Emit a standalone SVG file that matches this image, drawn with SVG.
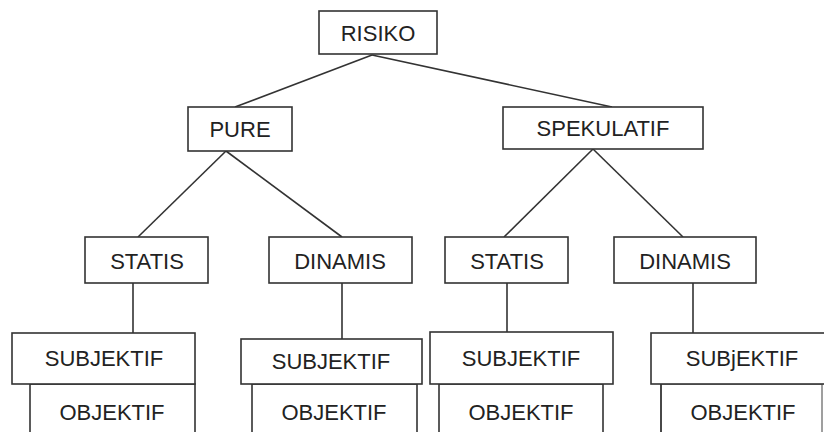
<svg xmlns="http://www.w3.org/2000/svg" width="824" height="432" viewBox="0 0 824 432">
<style>
.box{fill:#fff;stroke:#333;stroke-width:1.6}
.t{font-family:"Liberation Sans",Arial,sans-serif;font-size:22px;fill:#222;text-anchor:middle}
.c{stroke:#333;stroke-width:1.6;fill:none}
</style>
<rect width="824" height="432" fill="#fff"/>
<g id="connectors">
<line class="c" x1="372" y1="55" x2="235" y2="107"/>
<line class="c" x1="372" y1="55" x2="612" y2="107"/>
<line class="c" x1="226" y1="151" x2="138" y2="237"/>
<line class="c" x1="226" y1="151" x2="342" y2="237"/>
<line class="c" x1="593" y1="149" x2="504" y2="237"/>
<line class="c" x1="593" y1="149" x2="683" y2="237"/>
<line class="c" x1="133" y1="283" x2="133" y2="333"/>
<line class="c" x1="342" y1="283" x2="342" y2="339"/>
<line class="c" x1="507" y1="283" x2="507" y2="332"/>
<line class="c" x1="693" y1="283" x2="693" y2="333"/>
</g>
<g id="risiko"><rect class="box" x="319" y="11" width="118" height="43"/><text class="t" x="378" y="41">RISIKO</text></g>
<g id="pure"><rect class="box" x="188" y="107" width="104" height="44"/><text class="t" x="240" y="137">PURE</text></g>
<g id="spekulatif"><rect class="box" x="503" y="107" width="200" height="42"/><text class="t" x="603" y="136">SPEKULATIF</text></g>
<g id="statis1"><rect class="box" x="85" y="237" width="123" height="46"/><text class="t" x="147" y="269">STATIS</text></g>
<g id="dinamis1"><rect class="box" x="269" y="237" width="143" height="46"/><text class="t" x="340" y="269">DINAMIS</text></g>
<g id="statis2"><rect class="box" x="445" y="237" width="123" height="46"/><text class="t" x="507" y="269">STATIS</text></g>
<g id="dinamis2"><rect class="box" x="614" y="237" width="142" height="46"/><text class="t" x="685" y="269">DINAMIS</text></g>
<g id="objektif1"><rect class="box" x="30" y="384" width="165" height="60"/><text class="t" x="112" y="420">OBJEKTIF</text></g>
<g id="subjektif1"><rect class="box" x="12" y="333" width="183" height="51"/><text class="t" x="104" y="366">SUBJEKTIF</text></g>
<g id="objektif2"><rect class="box" x="252" y="384" width="165" height="60"/><text class="t" x="334" y="420">OBJEKTIF</text></g>
<g id="subjektif2"><rect class="box" x="241" y="339" width="181" height="45"/><text class="t" x="331" y="369">SUBJEKTIF</text></g>
<g id="objektif3"><rect class="box" x="439" y="384" width="164" height="60"/><text class="t" x="521" y="420">OBJEKTIF</text></g>
<g id="subjektif3"><rect class="box" x="430" y="332" width="183" height="52"/><text class="t" x="521" y="366">SUBJEKTIF</text></g>
<g id="objektif4"><rect class="box" x="661" y="384" width="161" height="60" style="stroke:#888"/><line class="c" x1="661" y1="384" x2="661" y2="444"/><text class="t" x="743" y="420">OBJEKTIF</text></g>
<g id="subjektif4"><rect class="box" x="651" y="333" width="185" height="51"/><text class="t" x="742" y="366">SUBjEKTIF</text></g>
</svg>
